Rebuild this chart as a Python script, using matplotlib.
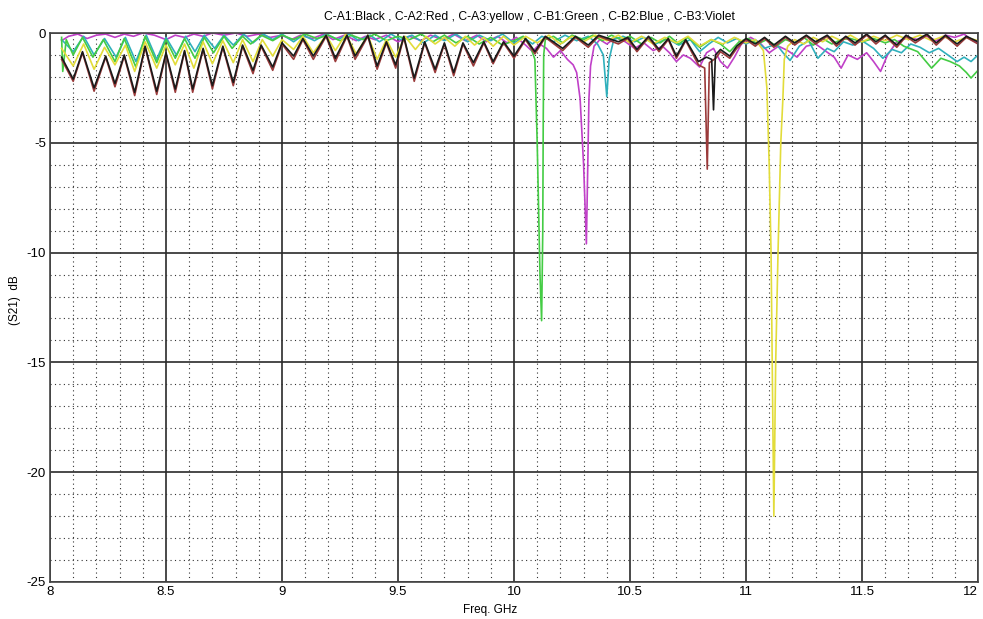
import matplotlib
matplotlib.use("Agg")
import matplotlib.pyplot as plt
from matplotlib.ticker import MultipleLocator

plt.rcParams['font.family'] = ['Liberation Sans', 'DejaVu Sans']
plt.rcParams['axes.unicode_minus'] = False

# C-A1 (black)
a1_freq = [8.05, 8.10, 8.14, 8.19, 8.24, 8.28, 8.32, 8.365, 8.41, 8.46, 8.50, 8.54, 8.58, 8.615,
           8.66, 8.70, 8.745, 8.79, 8.83, 8.875, 8.91, 8.96, 9.00, 9.05, 9.09, 9.135, 9.19, 9.23,
           9.28, 9.315, 9.37, 9.41, 9.45, 9.49, 9.525, 9.57, 9.615, 9.66, 9.70, 9.74, 9.78, 9.825,
           9.87, 9.91, 9.955, 10.00, 10.05, 10.09, 10.135, 10.21, 10.265, 10.32, 10.365, 10.45,
           10.49, 10.53, 10.58, 10.625, 10.665, 10.70, 10.74, 10.795, 10.83, 10.852, 10.86, 10.868,
           10.89, 10.93, 10.96, 11.00, 11.04, 11.08, 11.12, 11.17, 11.21, 11.26, 11.30, 11.35,
           11.39, 11.43, 11.47, 11.52, 11.56, 11.60, 11.65, 11.69, 11.73, 11.78, 11.82, 11.86,
           11.91, 11.95, 12.00]
a1_db = [-1.1, -2.1, -0.85, -2.5, -1.05, -2.3, -1.0, -2.7, -0.6, -2.65, -0.9, -2.55, -0.8, -2.55,
         -0.7, -2.4, -0.6, -2.25, -0.55, -1.7, -0.55, -1.55, -0.45, -1.05, -0.25, -1.05, -0.1, -1.15,
         -0.1, -1.05, -0.1, -1.5, -0.4, -1.45, -0.15, -2.05, -0.4, -1.65, -0.45, -1.8, -0.45, -1.35,
         -0.4, -1.3, -0.4, -1.05, -0.25, -0.85, -0.15, -0.7, -0.15, -0.55, -0.1, -0.4,
         -0.2, -0.75, -0.15, -0.75, -0.25, -1.05, -0.3, -1.3, -1.1, -1.2, -3.5, -1.0,
         -0.75, -1.05, -0.6, -0.25, -0.5, -0.2, -0.55, -0.15, -0.45, -0.1, -0.4, -0.1,
         -0.5, -0.15, -0.45, -0.05, -0.4, -0.1, -0.55, -0.1, -0.35, -0.05, -0.45, -0.1,
         -0.5, -0.15, -0.4]

# C-A2 (red)
a2_freq = [8.05, 8.10, 8.14, 8.19, 8.24, 8.28, 8.32, 8.365, 8.41, 8.46, 8.50, 8.54, 8.58, 8.615,
           8.66, 8.70, 8.745, 8.79, 8.83, 8.875, 8.91, 8.96, 9.00, 9.05, 9.09, 9.135, 9.19, 9.23,
           9.28, 9.315, 9.37, 9.41, 9.45, 9.49, 9.525, 9.57, 9.615, 9.66, 9.70, 9.74, 9.78, 9.825,
           9.87, 9.91, 9.955, 10.00, 10.05, 10.09, 10.135, 10.21, 10.265, 10.32, 10.365, 10.45,
           10.49, 10.53, 10.58, 10.625, 10.665, 10.70, 10.74, 10.795, 10.822, 10.833, 10.842,
           10.87, 10.89, 10.93, 10.96, 11.00, 11.04, 11.08, 11.12, 11.17, 11.21, 11.26, 11.30,
           11.35, 11.39, 11.43, 11.47, 11.52, 11.56, 11.60, 11.65, 11.69, 11.73, 11.78, 11.82,
           11.86, 11.91, 11.95, 12.00]
a2_db = [-1.2, -2.2, -0.9, -2.65, -1.1, -2.45, -1.05, -2.85, -0.65, -2.8, -0.95, -2.7, -0.85, -2.7,
         -0.75, -2.55, -0.65, -2.4, -0.6, -1.85, -0.6, -1.7, -0.5, -1.2, -0.3, -1.2, -0.15, -1.3,
         -0.15, -1.2, -0.15, -1.65, -0.45, -1.6, -0.2, -2.2, -0.45, -1.8, -0.5, -1.95, -0.5, -1.5,
         -0.45, -1.4, -0.45, -1.15, -0.3, -0.95, -0.2, -0.8, -0.2, -0.65, -0.15, -0.5,
         -0.25, -0.85, -0.2, -0.85, -0.3, -1.15, -0.35, -1.45, -1.6, -6.2, -1.35,
         -1.15, -0.85, -1.15, -0.7, -0.3, -0.6, -0.25, -0.65, -0.2, -0.55, -0.15, -0.5,
         -0.15, -0.6, -0.2, -0.55, -0.1, -0.5, -0.15, -0.65, -0.15, -0.45, -0.1, -0.55,
         -0.15, -0.6, -0.2, -0.5]

# C-A3 (yellow)
a3_freq = [8.05, 8.10, 8.145, 8.19, 8.235, 8.28, 8.325, 8.365, 8.41, 8.46, 8.50, 8.54, 8.58, 8.62,
           8.66, 8.70, 8.745, 8.79, 8.83, 8.875, 8.915, 8.96, 9.00, 9.05, 9.09, 9.135, 9.19, 9.23,
           9.275, 9.32, 9.37, 9.41, 9.45, 9.49, 9.53, 9.575, 9.62, 9.66, 9.70, 9.745, 9.79, 9.83,
           9.87, 9.91, 9.955, 10.00, 10.05, 10.10, 10.15, 10.20, 10.25, 10.30, 10.35, 10.40, 10.45,
           10.50, 10.55, 10.60, 10.65, 10.70, 10.75, 10.80, 10.85, 10.90, 10.95, 11.00, 11.04,
           11.075, 11.09, 11.10, 11.108, 11.113, 11.12, 11.128, 11.138, 11.15, 11.159, 11.165,
           11.18, 11.21, 11.25, 11.29, 11.33, 11.37, 11.41, 11.45, 11.50, 11.55, 11.60, 11.65,
           11.70, 11.75, 11.80, 11.85, 11.90, 11.95, 12.00]
a3_db = [-0.7, -1.5, -0.5, -1.65, -0.65, -1.45, -0.55, -1.75, -0.4, -1.6, -0.55, -1.45, -0.5, -1.6,
         -0.4, -1.4, -0.35, -1.35, -0.3, -1.3, -0.3, -1.05, -0.3, -0.75, -0.15, -0.9, -0.1, -0.8,
         -0.05, -0.95, -0.1, -1.2, -0.3, -1.1, -0.15, -0.75, -0.15, -0.5, -0.2, -0.6, -0.15, -0.55,
         -0.2, -0.6, -0.15, -0.55, -0.15, -0.45, -0.1, -0.5, -0.15, -0.4, -0.1, -0.35, -0.1,
         -0.45, -0.15, -0.5, -0.2, -0.45, -0.15, -0.6, -0.3, -0.5, -0.2, -0.45, -0.3,
         -0.8, -2.5, -6.0, -10.0, -15.0, -22.0, -15.0, -10.0, -5.0, -3.0, -1.2,
         -0.6, -0.3, -0.5, -0.2, -0.4, -0.15, -0.35, -0.1, -0.4, -0.15, -0.35, -0.1,
         -0.3, -0.1, -0.35, -0.15, -0.4, -0.2, -0.35]

# C-B1 (green)
b1_freq = [8.05, 8.055, 8.07, 8.10, 8.14, 8.185, 8.23, 8.28, 8.32, 8.37, 8.41, 8.46, 8.50, 8.54,
           8.58, 8.625, 8.665, 8.705, 8.75, 8.785, 8.83, 8.865, 8.91, 8.96, 9.00, 9.05, 9.10, 9.15,
           9.20, 9.25, 9.30, 9.35, 9.40, 9.45, 9.50, 9.55, 9.60, 9.65, 9.70, 9.75, 9.80, 9.85, 9.90,
           9.95, 10.00, 10.04, 10.07, 10.09, 10.10, 10.112, 10.119, 10.124, 10.126, 10.128, 10.135,
           10.17, 10.21, 10.25, 10.30, 10.34, 10.38, 10.42, 10.46, 10.50, 10.55, 10.59, 10.63,
           10.67, 10.71, 10.75, 10.80, 10.85, 10.89, 10.93, 10.97, 11.01, 11.05, 11.09, 11.13,
           11.17, 11.21, 11.25, 11.29, 11.33, 11.37, 11.41, 11.45, 11.50, 11.55, 11.60, 11.64,
           11.68, 11.74, 11.80, 11.84, 11.88, 11.92, 11.95, 11.97, 12.00]
b1_db = [-0.2, -1.75, -0.3, -1.0, -0.2, -1.1, -0.3, -1.3, -0.25, -1.55, -0.15, -1.35, -0.3, -1.15,
         -0.25, -1.15, -0.2, -0.9, -0.15, -0.7, -0.15, -0.5, -0.1, -0.35, -0.1, -0.3, -0.05, -0.25,
         -0.1, -0.35, -0.1, -0.3, -0.05, -0.35, -0.15, -0.3, -0.05, -0.4, -0.1, -0.45, -0.15, -0.5, -0.2,
         -0.55, -0.35, -0.15, -0.6, -1.2, -5.0, -11.0, -13.1, -9.0, -4.0, -1.0, -0.3,
         -0.15, -0.45, -0.1, -0.3, -0.1, -0.35, -0.1, -0.3, -0.15, -0.5, -0.2, -0.45,
         -0.15, -0.5, -0.2, -0.65, -0.3, -0.5, -0.85, -0.4, -0.25, -0.5, -0.3, -0.6,
         -0.3, -0.45, -0.2, -0.55, -0.25, -0.5, -0.3, -0.25, -0.4, -0.25, -0.45, -0.3,
         -0.6, -0.85, -1.6, -1.15, -1.3, -1.5, -1.8, -2.05, -1.7]

# C-B2 (blue)
b2_freq = [8.05, 8.10, 8.145, 8.19, 8.235, 8.285, 8.325, 8.37, 8.415, 8.46, 8.50, 8.545, 8.585,
           8.625, 8.665, 8.71, 8.75, 8.79, 8.835, 8.875, 8.92, 8.96, 9.00, 9.05, 9.09, 9.14, 9.19,
           9.24, 9.29, 9.33, 9.38, 9.42, 9.47, 9.51, 9.56, 9.61, 9.66, 9.70, 9.75, 9.80, 9.85, 9.90,
           9.95, 10.00, 10.04, 10.08, 10.12, 10.17, 10.22, 10.27, 10.32, 10.36, 10.385, 10.40,
           10.41, 10.43, 10.47, 10.52, 10.56, 10.61, 10.66, 10.71, 10.76, 10.80, 10.84, 10.88,
           10.92, 10.96, 11.00, 11.04, 11.08, 11.13, 11.16, 11.19, 11.23, 11.27, 11.31, 11.35,
           11.38, 11.42, 11.46, 11.50, 11.55, 11.59, 11.63, 11.67, 11.71, 11.75, 11.79, 11.83,
           11.87, 11.91, 11.94, 11.97, 12.00]
b2_db = [-0.3, -0.85, -0.15, -1.0, -0.25, -1.1, -0.2, -1.3, -0.1, -1.2, -0.2, -1.0, -0.15,
         -0.85, -0.1, -0.7, -0.1, -0.55, -0.05, -0.45, -0.05, -0.3, -0.05, -0.4, -0.1, -0.35, -0.05,
         -0.3, -0.05, -0.35, -0.1, -0.4, -0.05, -0.3, -0.1, -0.45, -0.1, -0.35, -0.05, -0.4, -0.1, -0.35,
         -0.05, -0.45, -0.2, -0.5, -0.15, -0.4, -0.1, -0.35, -0.15, -0.5, -1.0, -2.9,
         -1.2, -0.3, -0.15, -0.4, -0.2, -0.5, -0.25, -0.55, -0.3, -0.85, -0.5, -0.2,
         -0.45, -0.25, -0.5, -0.3, -0.7, -0.5, -0.9, -1.25, -0.6, -0.35, -1.15, -0.7,
         -0.85, -0.4, -0.55, -0.35, -0.7, -1.15, -0.75, -0.9, -0.5, -0.65, -0.9, -0.7,
         -1.0, -1.3, -1.1, -1.3, -1.0]

# C-B3 (violet)
b3_freq = [8.05, 8.08, 8.12, 8.16, 8.20, 8.24, 8.28, 8.32, 8.36, 8.40, 8.45, 8.50, 8.54, 8.58,
           8.62, 8.66, 8.70, 8.75, 8.80, 8.85, 8.90, 8.95, 9.00, 9.04, 9.08, 9.13, 9.18, 9.22, 9.27,
           9.32, 9.36, 9.40, 9.45, 9.50, 9.55, 9.60, 9.64, 9.69, 9.74, 9.79, 9.84, 9.88, 9.93, 9.97,
           10.01, 10.05, 10.08, 10.11, 10.14, 10.17, 10.20, 10.23, 10.255, 10.27, 10.285, 10.30,
           10.312, 10.318, 10.323, 10.33, 10.345, 10.37, 10.40, 10.44, 10.48, 10.52, 10.56, 10.60,
           10.64, 10.67, 10.70, 10.73, 10.76, 10.80, 10.83, 10.86, 10.89, 10.92, 10.95, 10.98,
           11.02, 11.06, 11.10, 11.14, 11.18, 11.22, 11.26, 11.30, 11.34, 11.38, 11.41, 11.44,
           11.48, 11.52, 11.55, 11.58, 11.61, 11.65, 11.70, 11.74, 11.78, 11.82, 11.86, 11.90,
           11.94, 11.97, 12.00]
b3_db = [-0.35, -0.15, -0.05, -0.25, -0.1, -0.05, -0.2, -0.05, -0.15, 0.0, -0.1, -0.3, -0.1, -0.2,
         -0.05, -0.15, 0.0, -0.1, 0.0, -0.15, -0.05, -0.2, -0.1, -0.3, -0.1, -0.25, -0.05, -0.3, -0.1,
         -0.35, -0.15, -0.3, -0.1, -0.4, -0.15, -0.35, -0.1, -0.3, -0.05, -0.35, -0.1, -0.4, -0.15, -0.45,
         -0.2, -0.55, -0.85, -0.5, -0.7, -1.1, -0.8, -1.2, -1.45, -1.8, -3.0, -6.0,
         -9.6, -6.0, -3.0, -1.5, -0.6, -0.3, -0.5, -0.2, -0.4, -0.7, -0.45, -0.8,
         -0.6, -0.9, -1.3, -1.0, -1.15, -1.55, -0.9, -0.7, -1.3, -1.6, -1.1, -0.5,
         -0.2, -0.45, -0.9, -0.6, -0.8, -1.1, -0.6, -0.5, -0.8, -1.1, -1.6, -1.0,
         -1.2, -0.9, -1.3, -1.75, -1.0, -0.4, -0.2, -0.3, -0.15, -0.35, -0.1, -0.2,
         -0.05, -0.3, -0.45]

xtick_vals = [8, 8.5, 9, 9.5, 10, 10.5, 11, 11.5, 12]
xtick_text = ['8', '8.5', '9', '9.5', '10', '10.5', '11', '11.5', '12']

fig = plt.figure(figsize=(9.83, 6.19), dpi=100)
ax = fig.add_axes([50 / 983, 37 / 619, 928 / 983, 549 / 619])

# Plot traces (violet at the back, black on top)
style = dict(lw=1.2, solid_joinstyle='round')
ax.plot(b3_freq, b3_db, color='#c040c8', **style)
ax.plot(b2_freq, b2_db, color='#30b0bc', **style)
ax.plot(b1_freq, b1_db, color='#44cc44', **style)
ax.plot(a3_freq, a3_db, color='#e2dc3a', **style)
ax.plot(a2_freq, a2_db, color='#9a3a3a', **style)
ax.plot(a1_freq, a1_db, color='#1a1a1a', **style)

ax.set_xlim(8, 12)
ax.set_ylim(-25, 0)
ax.xaxis.set_minor_locator(MultipleLocator(0.1))
ax.yaxis.set_major_locator(MultipleLocator(5))
ax.yaxis.set_minor_locator(MultipleLocator(1))
ax.set_xticks(xtick_vals)
ax.set_xticklabels(xtick_text)
# last label sits against the right edge
ax.get_xticklabels()[-1].set_horizontalalignment('right')
ax.grid(which='major', color='#2a2a2a', lw=1.2, ls='-')
ax.grid(which='minor', color='#333333', lw=0.8, ls=(0, (1, 3)))
ax.set_axisbelow(True)
ax.tick_params(which='both', length=0, labelsize=9.5, pad=3)
for s in ax.spines.values():
    s.set_color('#444444')
    s.set_linewidth(1.2)

fig.text(529 / 983, 1 - 17 / 619, 'C-A1:Black , C-A2:Red , C-A3:yellow , C-B1:Green , C-B2:Blue , C-B3:Violet',
         ha='center', va='center', fontsize=8.7)
fig.text(490 / 983, 1 - 610 / 619, 'Freq. GHz', ha='center', va='center', fontsize=8.5)
fig.text(15 / 983, 1 - 300 / 619, '(S21)  dB', ha='center', va='center', rotation=90, fontsize=8.5)

fig.savefig('out.png', dpi=100)
